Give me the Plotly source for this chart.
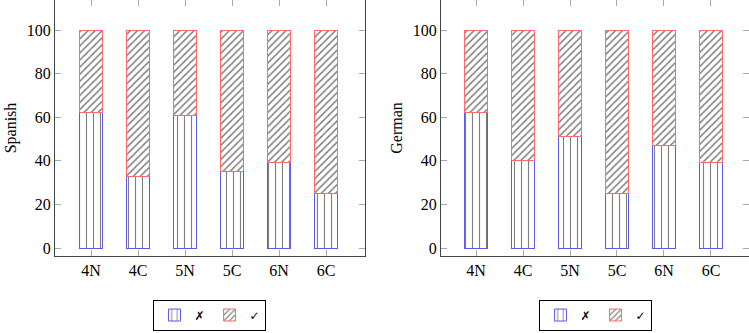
import plotly.graph_objects as go

categories = ["4N", "4C", "5N", "5C", "6N", "6C"]
spanish_wrong = [62, 33, 61, 35, 39, 25]
spanish_right = [38, 67, 39, 65, 61, 75]
german_wrong = [62, 40, 51, 25, 47, 39]
german_right = [38, 60, 49, 75, 53, 61]
y_ticks = [0, 20, 40, 60, 80, 100]

BLUE = "#5a5af0"
RED = "#ff6a6a"
FONT = "Liberation Serif"

fig = go.Figure()

def add_pair(wrong, right, xa, ya, legend):
    fig.add_trace(go.Bar(
        x=categories, y=wrong, name="✗", xaxis=xa, yaxis=ya, legend=legend,
        width=0.5,
        marker=dict(color="white", line=dict(color=BLUE, width=1),
                    pattern=dict(shape="|", size=7, solidity=0.16,
                                 fgcolor="black", bgcolor="white")),
    ))
    fig.add_trace(go.Bar(
        x=categories, y=right, name="✓", xaxis=xa, yaxis=ya, legend=legend,
        width=0.5,
        marker=dict(color="white", line=dict(color=RED, width=1),
                    pattern=dict(shape="/", size=5, solidity=0.3,
                                 fgcolor="black", bgcolor="white")),
    ))

add_pair(spanish_wrong, spanish_right, "x", "y", "legend")
add_pair(german_wrong, german_right, "x2", "y2", "legend2")

axis_common = dict(showline=True, linecolor="#444", linewidth=1,
                   ticks="inside", ticklen=6, tickcolor="#aaa", tickwidth=1,
                   mirror="allticks", showgrid=False, zeroline=False,
                   automargin=False,
                   tickfont=dict(family=FONT, size=16, color="black"))

y_range = [-3.67, 113.76]

legend_common = dict(orientation="h", xanchor="center", y=-0.17, yanchor="top",
                     bordercolor="black", borderwidth=1, bgcolor="white",
                     font=dict(family="DejaVu Sans", size=12), itemwidth=30,
                     traceorder="normal")

fig.update_layout(
    width=749, height=333,
    margin=dict(l=55, r=0, t=0, b=77, autoexpand=False),
    paper_bgcolor="white", plot_bgcolor="white",
    barmode="stack",
    font=dict(family=FONT, size=16, color="black"),
    xaxis=dict(domain=[0, 0.4467], range=[-0.766, 5.83], **axis_common),
    xaxis2=dict(domain=[0.5562, 1.0], range=[-0.745, 5.809], anchor="y2", **axis_common),
    yaxis=dict(range=y_range, tickvals=y_ticks, anchor="x",
               title=dict(text="Spanish", standoff=6, font=dict(family=FONT, size=16)),
               **axis_common),
    yaxis2=dict(range=y_range, tickvals=y_ticks, anchor="x2",
                title=dict(text="German", standoff=6, font=dict(family=FONT, size=16)),
                **axis_common),
    legend=dict(x=0.2233, **legend_common),
    legend2=dict(x=0.7795, **legend_common),
)

fig.write_html("out.html", config={"displayModeBar": False},
               post_script="document.body.style.margin='0';document.body.style.overflow='hidden';")
